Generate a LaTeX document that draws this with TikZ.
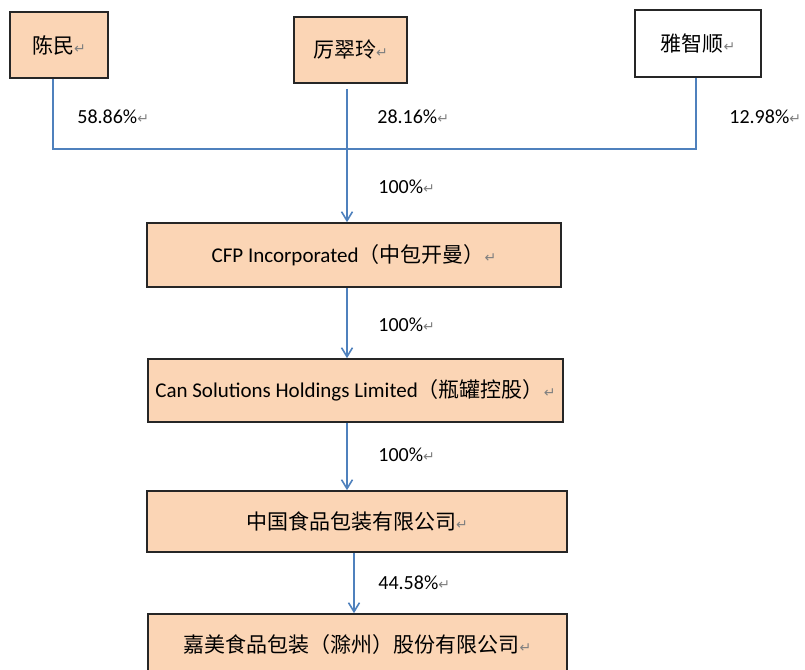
\documentclass[tikz,border=0pt]{standalone}
\usepackage{fontspec}
\setmainfont{Carlito}
\newfontfamily\cjk{Noto Sans CJK SC}
\newfontfamily\symfont{DejaVu Sans}
\usepackage{xcolor}
\usetikzlibrary{arrows.meta,positioning}
\definecolor{peach}{HTML}{FBD5B5}
\definecolor{linkblue}{HTML}{4F81BD}
\newcommand{\pmark}{{\symfont\color{gray}\fontsize{7}{8}\selectfont ↵}}
\tikzset{
  holder/.style={draw=black!85,line width=0.8pt,fill=peach,inner sep=0pt,
    font=\fontsize{10.5}{12}\selectfont},
  company/.style={holder,minimum height=32pt},
  share/.style={anchor=west,inner sep=0pt,font=\fontsize{10}{12}\selectfont},
  link/.style={draw=linkblue,line width=0.8pt},
  own/.style={link,-{Straight Barb[length=4.5pt,width=5.5pt]}}
}
\begin{document}
\begin{tikzpicture}[x=0.5pt,y=-0.5pt]
  \useasboundingbox (0,0) rectangle (805,670);
  % shareholders
  \node[holder,minimum width=49pt,minimum height=33pt] (chen) at (59,45) {{\cjk 陈民}\pmark};
  \node[holder,minimum width=56.5pt,minimum height=33pt] (li) at (350.5,50) {{\cjk 厉翠玲}\pmark};
  \node[holder,fill=white,minimum width=63pt,minimum height=33.5pt] (ya) at (698,43.5) {{\cjk 雅智顺}\pmark};
  % companies
  \node[company,minimum width=207pt] (cfp) at (354,255) {CFP Incorporated{\cjk （中包开曼）}\pmark};
  \node[company,minimum width=207.5pt,minimum height=31.5pt] (can) at (355.5,390.5) {Can Solutions Holdings Limited{\cjk （瓶罐控股）}\pmark};
  \node[company,minimum width=210pt,minimum height=30.5pt] (cn) at (357,521.5) {{\cjk 中国食品包装有限公司}\pmark};
  \node[company,minimum width=209.5pt,minimum height=31pt] (jm) at (357.5,645) {{\cjk 嘉美食品包装（滁州）股份有限公司}\pmark};
  \coordinate (bus) at (347,149);
  % ownership lines
  \draw[link] ([xshift=-3pt]chen.south) |- (bus) -| ([xshift=-1pt]ya.south);
  \draw[own] ([xshift=-1.75pt,yshift=-2.5pt]li.south) -- ([xshift=-1.75pt]li.south |- cfp.north);
  \draw[own] ([xshift=-3.5pt]cfp.south) -- ([xshift=-3.5pt]cfp.south |- can.north);
  \draw[own] ([xshift=-4.25pt]can.south) -- ([xshift=-4.25pt]can.south |- cn.north);
  \draw[own] ([xshift=-1.5pt]cn.south) -- ([xshift=-1.5pt]cn.south |- jm.north);
  % percentages
  \node[share] (p1) at (77,117) {58.86\%\pmark};
  \node[share] (p2) at (377,117) {28.16\%\pmark};
  \node[share] (p3) at (729,117) {12.98\%\pmark};
  \node[share] (p4) at (378,187) {100\%\pmark};
  \node[share] (p5) at (378,325) {100\%\pmark};
  \node[share] (p6) at (378,455) {100\%\pmark};
  \node[share] (p7) at (378,583) {44.58\%\pmark};
\end{tikzpicture}
\end{document}
